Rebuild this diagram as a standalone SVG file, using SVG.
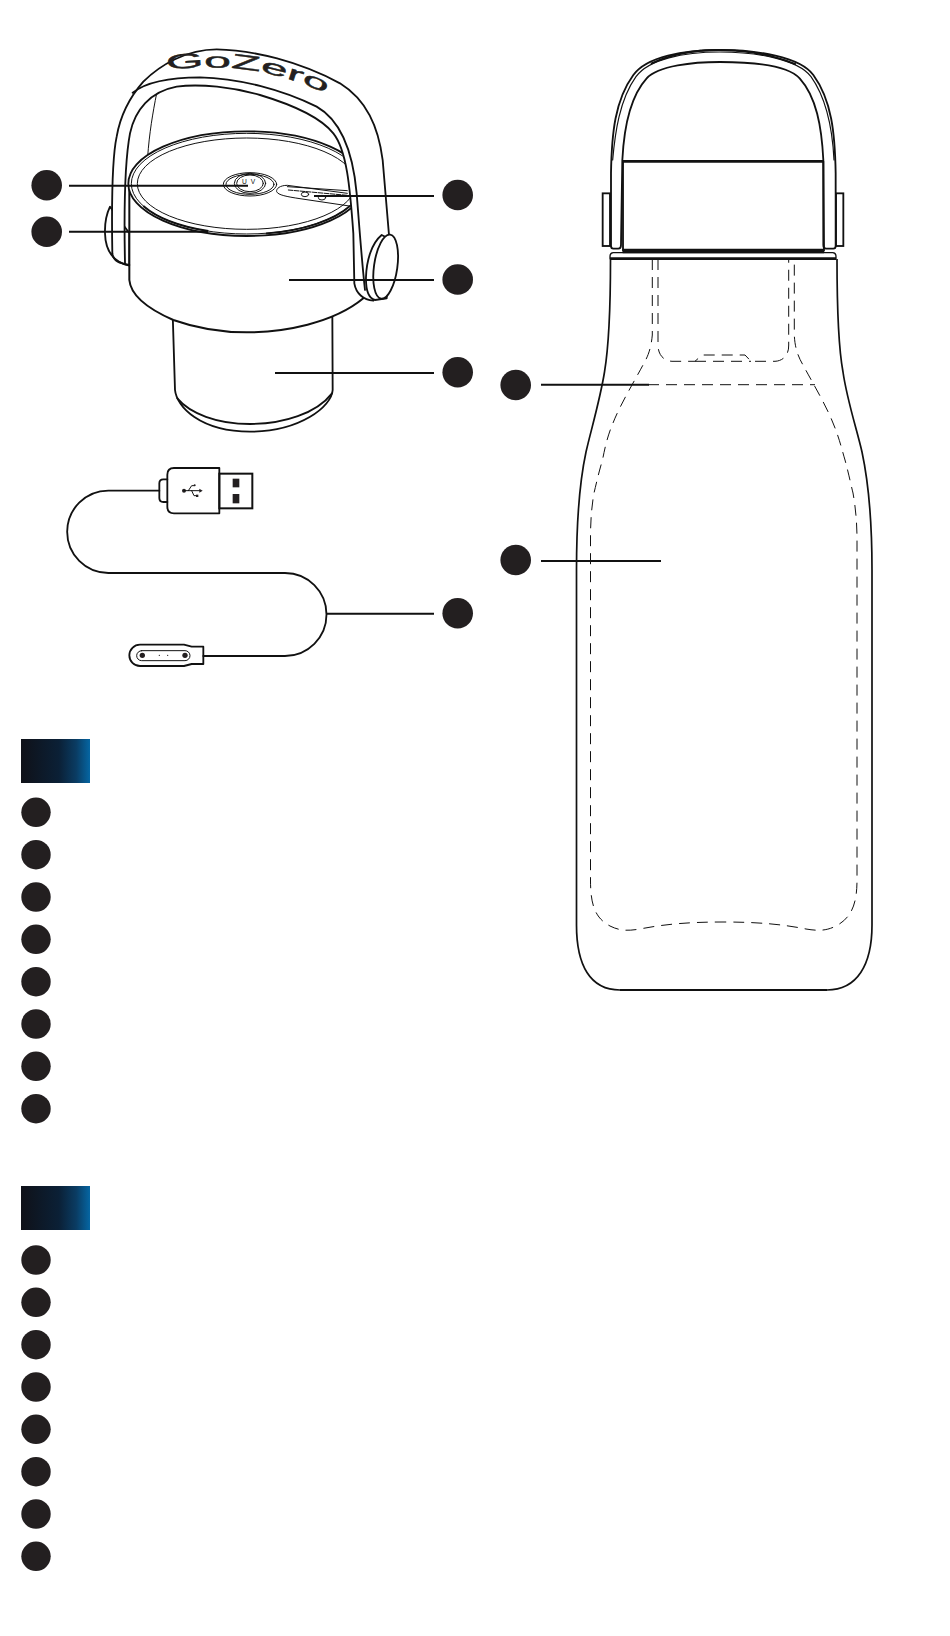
<svg xmlns="http://www.w3.org/2000/svg" width="950" height="1636" viewBox="0 0 950 1636">
<style>
.l{fill:none;stroke:#111;stroke-width:5.500;stroke-linecap:round;stroke-linejoin:round}
.t{fill:none;stroke:#111;stroke-width:3;stroke-linecap:round}
.k{fill:none;stroke:#111;stroke-width:8}
.w{fill:#fff;stroke:#111;stroke-width:5.500;stroke-linejoin:round}
.n{fill:#fff;stroke:none}
.f{fill:#231f20}
.d{fill:none;stroke:#111;stroke-width:1;stroke-dasharray:11 7}
.c{fill:none;stroke:#111;stroke-width:1.700}
.lead{stroke:#111;stroke-width:2;fill:none}
.dot{fill:#231f20}
</style>
<defs>
<linearGradient id="hdr" x1="0" y1="0" x2="1" y2="0">
<stop offset="0" stop-color="#0f1118"/>
<stop offset=".55" stop-color="#0b2036"/>
<stop offset=".8" stop-color="#0a3c63"/>
<stop offset="1" stop-color="#0566a3"/>
</linearGradient>
<path id="brand" d="M500 210C600 197 720 200 800 220C860 234 920 252 985 284"/>
</defs>
<rect width="950" height="1636" fill="#fff"/>

<g id="cap" transform="scale(.33333)">
<path class="t" d="M470 280C458 340 448 400 443 470"/>
<path class="w" d="M330 620C318 645 314 670 315 700C316 750 335 785 388 797L388 700Z"/>
<path class="w" d="M518 940L525 1170C530 1220 600 1295 750 1295C900 1295 995 1220 998 1170L997 940Z"/>
<path class="l" d="M532 1195C570 1240 650 1272 750 1272C850 1272 950 1240 996 1180"/>
<path class="w" d="M388 560L388 840C392 885 440 925 520 960C590 985 670 997 740 997C850 997 1000 970 1090 895L1090 560Z" style="stroke-width:6"/>
<ellipse class="w" cx="740" cy="551" rx="355" ry="157"/>
<ellipse class="t" cx="740" cy="551" rx="346" ry="151"/>
<ellipse class="t" cx="740" cy="551" rx="328" ry="137"/>
<path class="k" d="M430 618A346 151 0 0 0 625 693" style="stroke-width:6"/>
<path class="l" d="M800 700A346 151 0 0 0 1050 618"/>
<ellipse class="t" cx="750" cy="553" rx="80" ry="35"/>
<ellipse class="t" cx="750" cy="553" rx="72" ry="30"/>
<ellipse class="t" cx="750" cy="550" rx="47" ry="30"/>
<ellipse class="t" cx="750" cy="550" rx="40" ry="25"/>
<text x="752" y="551" text-anchor="middle" font-family="'Liberation Sans',sans-serif" font-size="20" letter-spacing="12" fill="#111">UV</text>
<path class="t" d="M1042 580L862 556C840 556 828 566 830 575C834 585 860 590 900 596L1048 618"/>
<path class="t" d="M1042 572L862 560"/>
<path class="t" d="M865 570L1042 586" stroke-dasharray="14 4"/>
<ellipse class="t" cx="915" cy="583" rx="11" ry="7"/>
<ellipse class="t" cx="966" cy="593" rx="11" ry="7"/>
<path class="n" d="M337 760C335 640 335 480 350 410C362 340 395 285 430 245C480 195 560 148 650 148C760 150 900 185 1020 250C1100 300 1135 380 1148 480C1155 560 1162 640 1167 705L1167 880L1120 902C1090 900 1068 880 1063 850L1060 700C1050 560 1040 450 1000 400C960 350 880 315 780 285C700 262 600 250 530 260C450 275 405 330 390 400C375 480 372 650 375 790Z"/>
<path class="l" d="M337 760C335 640 335 480 350 410C362 340 395 285 430 245C480 195 560 148 650 148C760 150 900 185 1020 250C1100 300 1135 380 1148 480C1155 560 1162 640 1167 705"/>
<path class="l" d="M398 278C440 245 510 232 600 232C720 235 850 270 950 320C1030 365 1060 470 1070 580C1078 680 1085 780 1095 870"/>
<path class="l" d="M375 790C372 650 375 480 390 400C405 330 450 275 530 260C600 250 700 262 780 285C880 315 960 350 1000 400C1040 450 1050 560 1060 700L1063 850C1068 880 1090 900 1120 902"/>
<path class="l" d="M337 760C340 785 360 790 388 795"/>
<path class="w" d="M1145 705C1115 730 1100 780 1098 830C1097 870 1105 895 1125 900L1160 895L1175 720Z"/>
<ellipse class="w" cx="1157" cy="800" rx="35" ry="97" transform="rotate(8 1157 800)"/>
<text font-family="'Liberation Sans',sans-serif" font-size="62" fill="#231f20" stroke="#231f20" stroke-width="1.200"><textPath href="#brand" textLength="490" lengthAdjust="spacingAndGlyphs">GoZero</textPath></text>
</g>

<g id="cable" transform="translate(40 440) scale(.33333)">
<path class="l" d="M358 152L205 152A123 123 0 0 0 205 399L735 399A124 124 0 0 1 735 648L490 648"/>
<path class="l" d="M382 118L370 118Q358 118 358 130L358 174Q358 186 370 186L382 186" fill="#fff"/>
<path class="l" d="M538 84L402 84Q382 84 382 104L382 200Q382 220 402 220L538 220Z"/>
<rect class="l" style="stroke-linejoin:miter;stroke-width:6" x="538" y="101" width="99" height="104"/>
<rect class="f" x="578" y="116" width="20" height="26"/>
<rect class="f" x="578" y="162" width="20" height="28"/>
<circle class="f" cx="432" cy="152" r="6"/>
<path class="t" d="M432 152L482 152M445 152L455 137L462 137M455 152L462 167L470 167"/>
<path class="f" d="M478 146L488 152L478 158Z"/>
<circle class="f" cx="464" cy="136" r="3"/>
<rect class="f" x="468" y="164" width="7" height="7"/>
<path class="l" d="M490 620L455 620L432 614L300 614A32 32 0 0 0 300 678L432 678L455 672L490 672Z"/>
<rect class="t" x="290" y="632" width="160" height="30" rx="15"/>
<circle class="f" cx="307" cy="646" r="8"/>
<circle class="f" cx="435" cy="646" r="8"/>
<circle class="f" cx="358" cy="646" r="2"/>
<circle class="f" cx="383" cy="646" r="2"/>
</g>

<g id="bottle">
<path class="c" d="M610.500 259C610.500 300 609 345 604.500 372C600 400 591 430 586 452C580 480 576.500 520 576.500 570L576.500 925C576.500 965 590 990 620 990L827 990C857 990 872 965 872 925L872 570C872 520 868 480 862 452C857 430 847 400 843 372C838 345 837 300 837 259"/>
<path class="c" d="M620 990L827 990" style="stroke-width:2.200"/>
<path class="d" d="M652.300 259L652.300 335C651 350 647 358 643 365C635 380 620 405 613 423C607 437 604.500 450 602.500 460C598 475 596 485 594 493C591 510 590.500 525 590.500 540L590.500 880C590.500 905 595 918 610 926C620 931 628 931 640 929C665 924 690 922 723 922C756 922 781 924 806 929C818 931 826 931 836 926C851 918 857 905 857 880L857 540C857 525 856 510 853 493C851 485 849 475 845 460C842 450 839 437 833 423C826 405 811 380 803 365C799 358 795 350 794.300 335L794.300 259"/>
<path class="d" d="M658 259L658 345C658 355 664 361 672 361.300L695 361.300L702 355L745 355L751 361.300L775 361.300C783 361 789 355 788.700 345L788.700 259"/>
<path class="d" d="M695 361.300L751 361.300"/>
<path class="d" d="M648 384.700L815 384.700"/>
</g>

<g id="bottle-cap" transform="translate(550 0) scale(.33333)">
<path class="l" d="M190 758L848 758Q858 758 858 770L858 776L180 776L180 770Q180 758 190 758Z" style="stroke-width:4"/>
<path class="k" d="M180 776L858 776"/>
<rect class="l" x="158" y="580" width="22" height="158" style="stroke-linejoin:miter"/>
<rect class="l" x="858" y="580" width="22" height="158" style="stroke-linejoin:miter"/>
<path class="l" d="M183 738L183 520C185 400 195 300 250 225C290 170 400 150 510 150C620 150 750 170 790 225C845 300 855 400 857 520L857 738Q857 746 850 746L828 746Q820 746 820 735L820 480C815 380 799 290 749 235C714 197 609 186 510 186C430 186 325 197 290 235C240 290 222 380 217 480L213 735Q213 746 205 746L190 746Q183 746 183 738Z"/>
<path class="l" d="M188 480C195 400 208 300 258 230C295 178 400 156 510 156C620 156 745 178 783 230C833 300 848 400 852 480" style="stroke-width:3.500"/>
<path class="l" style="stroke-width:6;stroke-dasharray:48 4" d="M305 190C370 160 440 150 510 150C590 150 670 165 735 192"/>
<path class="l" d="M219 484L219 752M820 484L822 752"/>
<path class="k" d="M217 484L822 484"/>
<path class="k" style="stroke-width:13" d="M218 753L822 753"/>
</g>

<g id="connectors">
<path class="lead" d="M69 185.700H248M69 231.700H208M434 196H314M434 280H289M434 373H275M434 613.700H326M541 384.700H649M541 561H661"/>
</g>

<g id="header-a"><rect x="21" y="739" width="69" height="44" fill="url(#hdr)"/></g>
<g id="header-b"><rect x="21" y="1186" width="69" height="44" fill="url(#hdr)"/></g>

<g id="callouts">
<circle id="c1" class="dot" cx="46.700" cy="185.300" r="15.300"/>
<circle id="c2" class="dot" cx="46.700" cy="231.700" r="15.300"/>
<circle id="c3" class="dot" cx="457.700" cy="195" r="15.300"/>
<circle id="c4" class="dot" cx="457.700" cy="279.500" r="15.300"/>
<circle id="c5" class="dot" cx="457.700" cy="372.300" r="15.300"/>
<circle id="c6" class="dot" cx="457.700" cy="613.300" r="15.300"/>
<circle id="c7" class="dot" cx="515.700" cy="385" r="15.300"/>
<circle id="c8" class="dot" cx="515.700" cy="560" r="15.300"/>
</g>
<g id="list-a">
<circle class="dot" cx="36" cy="812.300" r="14.700"/>
<circle class="dot" cx="36" cy="854.700" r="14.700"/>
<circle class="dot" cx="36" cy="897" r="14.700"/>
<circle class="dot" cx="36" cy="939.300" r="14.700"/>
<circle class="dot" cx="36" cy="981.700" r="14.700"/>
<circle class="dot" cx="36" cy="1024" r="14.700"/>
<circle class="dot" cx="36" cy="1066.300" r="14.700"/>
<circle class="dot" cx="36" cy="1108.700" r="14.700"/>
</g>
<g id="list-b">
<circle class="dot" cx="36" cy="1260" r="14.700"/>
<circle class="dot" cx="36" cy="1302.300" r="14.700"/>
<circle class="dot" cx="36" cy="1344.700" r="14.700"/>
<circle class="dot" cx="36" cy="1387" r="14.700"/>
<circle class="dot" cx="36" cy="1429.300" r="14.700"/>
<circle class="dot" cx="36" cy="1471.700" r="14.700"/>
<circle class="dot" cx="36" cy="1514" r="14.700"/>
<circle class="dot" cx="36" cy="1556.300" r="14.700"/>
</g>
</svg>
